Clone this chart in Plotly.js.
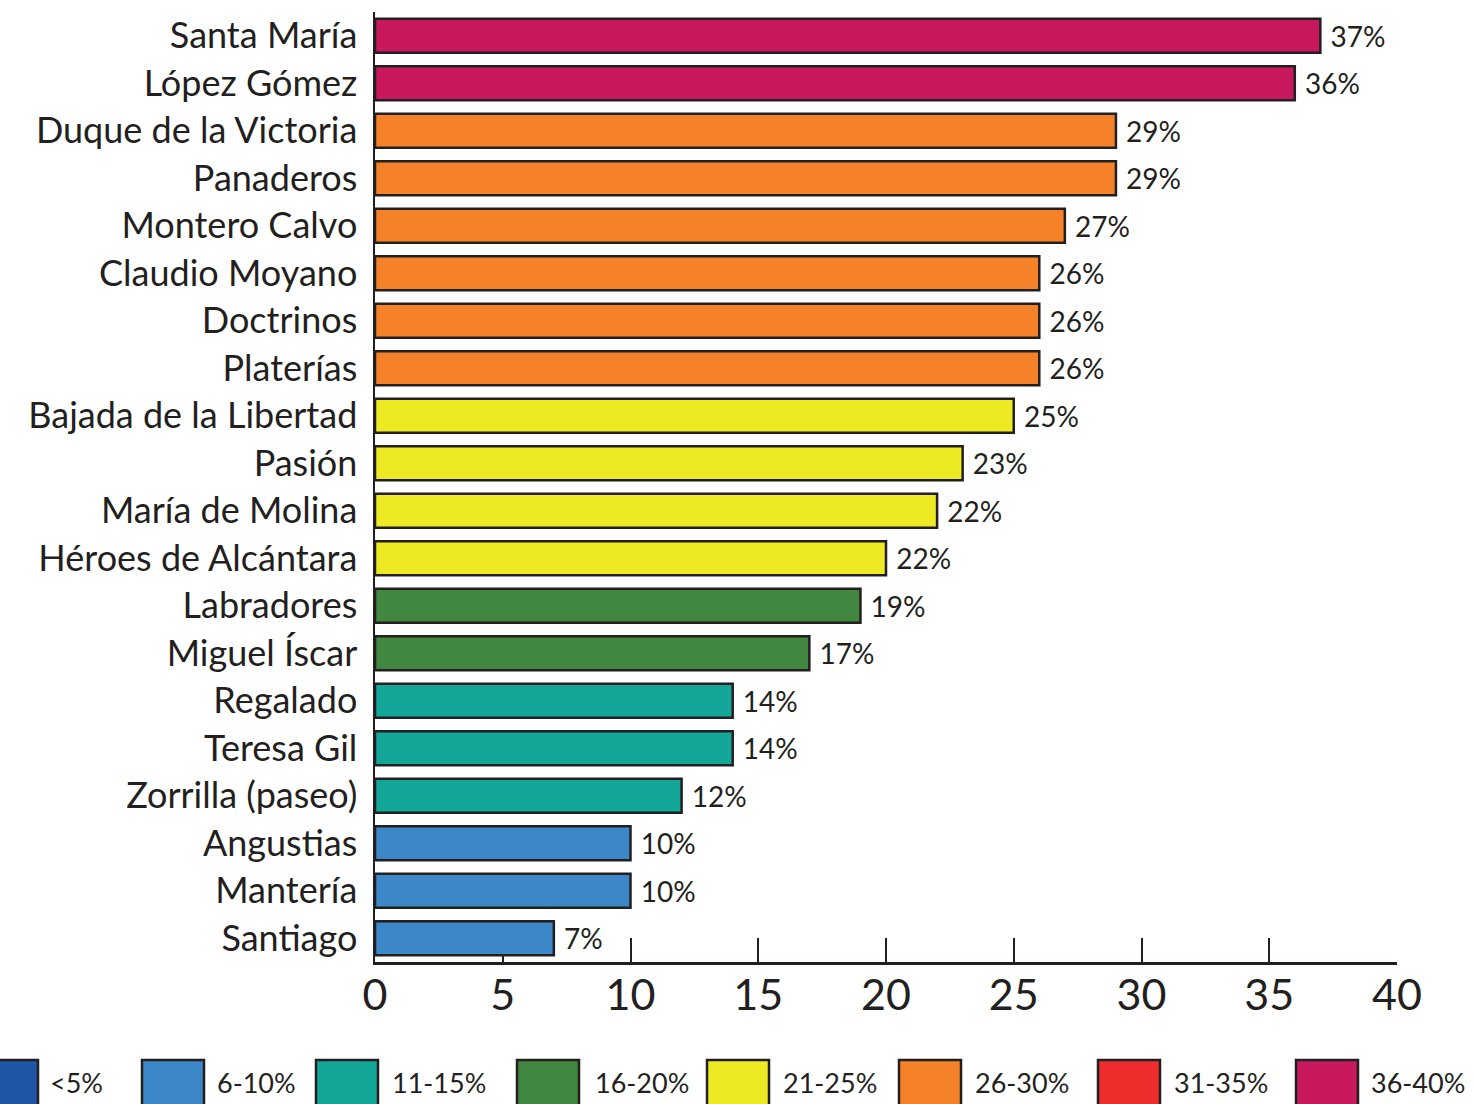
<!DOCTYPE html>
<html>
<head>
<meta charset="utf-8">
<script src="https://cdn.plot.ly/plotly-3.0.1.min.js"></script>
<style>html,body{margin:0;padding:0;background:#fff;}#chart{width:1474px;height:1104px;}</style>
</head>
<body>
<div id="chart"></div>
<script>
// ---- data ----
const streets = ["Santa María","López Gómez","Duque de la Victoria","Panaderos","Montero Calvo","Claudio Moyano","Doctrinos","Platerías","Bajada de la Libertad","Pasión","María de Molina","Héroes de Alcántara","Labradores","Miguel Íscar","Regalado","Teresa Gil","Zorrilla (paseo)","Angustias","Mantería","Santiago"];
const barValues = [37,36,29,29,27,26,26,26,25,23,22,20,19,17,14,14,12,10,10,7];
const labelPct  = [37,36,29,29,27,26,26,26,25,23,22,22,19,17,14,14,12,10,10,7];
const binLabels = ["<5%","6-10%","11-15%","16-20%","21-25%","26-30%","31-35%","36-40%"];
const binUpper  = [5,10,15,20,25,30,35,40];
const binColors = ["#1d57a5","#3c87c7","#13a79a","#41873f","#ede923","#f58229","#ee2e2d","#c8195f"];
const xTicks = [0,5,10,15,20,25,30,35,40];

const ink = "#231f20";
const font = "Lato, 'Open Sans', sans-serif";

function colorFor(p){ for(let i=0;i<binUpper.length;i++){ if(p<=binUpper[i]) return binColors[i]; } return binColors[binColors.length-1]; }

const trace = {
  type: "bar",
  orientation: "h",
  y: streets,
  x: barValues,
  text: labelPct.map(p => " " + p + "%"),
  textposition: "outside",
  cliponaxis: false,
  constraintext: "none",
  textfont: {family: font, size: 28, color: ink},
  marker: {color: labelPct.map(colorFor), line: {color: ink, width: 2.5}},
  hoverinfo: "none"
};

// layout geometry (pixels)
const W = 1474, H = 1104;
const mL = 375, mR = 77, mT = 12, mB = 142;
const pw = W - mL - mR, ph = H - mT - mB;
const px2x = px => (px - mL) / pw;
const py2y = py => (H - mB - py) / ph;

// legend geometry
const legSquareX = [-24,142,316,517,707,899,1098,1296];
const legLabelX  = [48,215,390,593,781,973,1172,1369];
const shapes = [], annotations = [];
binLabels.forEach((lab,i) => {
  shapes.push({type:"rect", xref:"paper", yref:"paper",
    x0: px2x(legSquareX[i]), x1: px2x(legSquareX[i]+62),
    y0: py2y(1060), y1: py2y(1110),
    fillcolor: binColors[i], line: {color: ink, width: 2.5}, layer: "above"});
  annotations.push({xref:"paper", yref:"paper", x: px2x(legLabelX[i]), y: py2y(1082),
    xanchor:"left", yanchor:"middle", text: lab, showarrow:false,
    font:{family: font, size: 27, color: ink}});
});

const layout = {
  width: W, height: H,
  margin: {l: mL, r: mR, t: mT, b: mB, pad: 0},
  paper_bgcolor: "#fff", plot_bgcolor: "#fff",
  showlegend: false,
  bargap: 0.284,
  font: {family: font, color: ink},
  xaxis: {
    range: [0, 40], tickvals: xTicks, ticktext: xTicks.map(String),
    ticks: "inside", ticklen: 24, tickwidth: 2, tickcolor: ink,
    showline: true, linecolor: ink, linewidth: 2.5,
    showgrid: false, zeroline: false, layer: "below traces",
    tickfont: {family: font, size: 43, color: ink}, ticklabelstandoff: -6
  },
  yaxis: {
    autorange: "reversed", type: "category",
    showline: true, linecolor: ink, linewidth: 2.5,
    ticks: "", showgrid: false, zeroline: false,
    tickfont: {family: font, size: 36, color: ink}, ticklabelstandoff: 8
  },
  shapes: shapes,
  annotations: annotations
};

Plotly.newPlot("chart", [trace], layout, {staticPlot: true});
</script>
</body>
</html>
